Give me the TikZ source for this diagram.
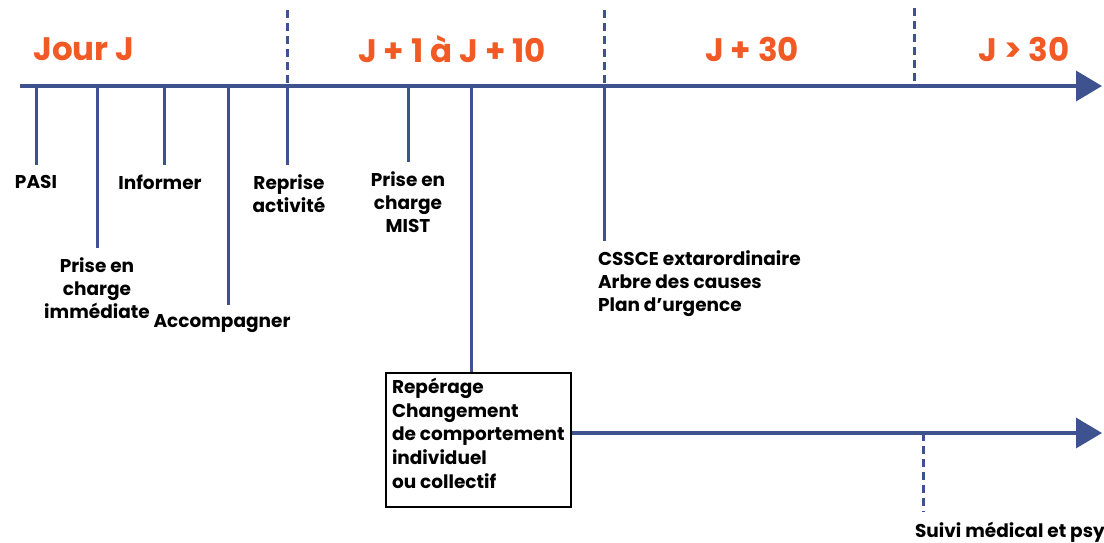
\documentclass[tikz,border=0pt]{standalone}
\usepackage{fontspec}
\setmainfont{Poppins}
\usetikzlibrary{positioning, arrows.meta}
\definecolor{axisblue}{HTML}{3D528E}
\definecolor{dayorange}{HTML}{F15A24}
\tikzset{x=1pt, y=-1pt,
         axis/.style={line width=3.5pt, draw=axisblue, -{Triangle[length=26pt, width=30pt]}},
         tick/.style={line width=3pt, draw=axisblue},
         sep/.style={tick, dash pattern=on 8pt off 5pt},
         day/.style={font=\fontsize{32.5}{38}\selectfont\bfseries, text=dayorange},
         lbl/.style={font=\fontsize{18.5}{23}\selectfont\bfseries, align=center,
                     inner sep=0pt, outer sep=10pt},
         box/.style={draw, line width=2pt, minimum width=185pt, minimum height=134pt},
         boxtext/.style={lbl, align=left, outer sep=0pt,
                         font=\fontsize{18.5}{23.75}\selectfont\bfseries},
         }

\begin{document}
\begin{tikzpicture}
    \useasboundingbox (0,0) rectangle (1104,542);
    % periods
    \node[day] (d0) at (84,49) {Jour J};
    \node[day] (d1) at (452,49) {J + 1 à J + 10};
    \node[day] (d2) at (752,49) {J + 30};
    \node[day] (d3) at (1024,49) {J > 30};

    % main axis
    \coordinate (start) at (20,86);
    \coordinate (end) at (1102,86);
    \draw[axis] (start) -- (end);

    % points on the axis
    \coordinate (tpasi) at (36,86);
    \coordinate (timm) at (97,86);
    \coordinate (tinf) at (164,86);
    \coordinate (tacc) at (228,86);
    \coordinate (trep) at (287,86);
    \coordinate (tmist) at (408,86);
    \coordinate (tbox) at (471,86);
    \coordinate (tcssce) at (604,86);
    \coordinate (tlong) at (914,86);

    % period separators
    \coordinate (s1) at (287,10);
    \coordinate (s2) at (604,10);
    \coordinate (s3) at (914,8);
    \draw[sep] (s1) -- (trep);
    \draw[sep] (s2) -- (tcssce);
    \draw[sep] (s3) -- (tlong);

    % actions
    \node[lbl, below=79pt of tpasi] (pasi) {PASI};
    \node[lbl, below=162pt of timm] (imm) {Prise en\\charge\\immédiate};
    \node[lbl, below=79pt of tinf, xshift=-4pt] (inf) {Informer};
    \node[lbl, below=219pt of tacc, xshift=-6pt] (acc) {Accompagner};
    \node[lbl, below=79pt of trep, xshift=2pt] (rep) {Reprise\\activité};
    \node[lbl, below=76pt of tmist] (mist) {Prise en\\charge\\MIST};
    \node[lbl, align=left, anchor=north west] (cssce) at (588,241)
        {CSSCE extarordinaire\\Arbre des causes\\Plan d’urgence};

    \draw[tick] (tpasi) -- (pasi);
    \draw[tick] (timm) -- (imm);
    \draw[tick] (tinf) -- (tinf |- inf.north);
    \draw[tick] (tacc) -- (tacc |- acc.north);
    \draw[tick] (trep) -- (trep |- rep.north);
    \draw[tick] (tmist) -- (mist);
    \draw[tick] (tcssce) -- (tcssce |- cssce.north);

    % behaviour box and follow-up axis
    \node[box, anchor=north west] (chg) at (385,372) {};
    \node[boxtext, anchor=north west] (chgtext) at (392,378)
        {Repérage\\Changement\\de comportement\\individuel\\ou collectif};
    \draw[tick] (tbox) -- (tbox |- chg.north);

    \coordinate (end2) at (1102,433);
    \draw[axis] (chg.east |- end2) -- (end2);

    \coordinate (tsuivi) at (923,433);
    \node[lbl, anchor=north west] (suivi) at (905,512) {Suivi médical et psy};
    \draw[sep] (tsuivi) -- (tsuivi |- suivi.north);
\end{tikzpicture}
\end{document}
